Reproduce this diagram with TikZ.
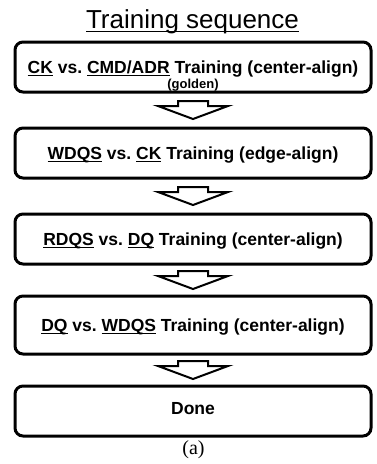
\documentclass[tikz,border=0pt]{standalone}
\usepackage{fontspec}
\setmainfont{Liberation Sans}
\newfontfamily\capfont{Liberation Serif}
\usepackage{tikz}
\usetikzlibrary{positioning,calc}
\frenchspacing

\newsavebox\ulbox
\newcommand\ulword[2][-2.6pt]{\sbox\ulbox{#2}\rlap{\rule[#1]{\wd\ulbox}{1.3pt}}\usebox\ulbox}

\begin{document}
\begin{tikzpicture}[%
box/.style={draw, line width=3pt, rounded corners=8pt, minimum width=356pt, minimum height=50pt, font=\bfseries\fontsize{17.5}{21}\selectfont, text height=12.5pt, text depth=-7.5pt},%
flow/.style={draw, line width=2pt, fill=white},%
node distance=86pt,%
  ]
    \useasboundingbox (0pt,0pt) rectangle (377pt,-464pt);

    \node[font=\fontsize{26}{30}\selectfont, anchor=base] (title) at (192.5pt,-28pt) {\ulword[-4pt]{Training sequence}};

    \node[box, align=center, inner ysep=0pt, text height=43pt, text depth=-12pt] (ck) at (193pt,-67pt) {\ulword{CK} vs. \ulword{CMD/ADR} Training (center-align)\\[-6pt]{\fontsize{13}{15}\selectfont (golden)}};

    \node[box] (wdqs) [below of=ck] {\ulword{WDQS} vs. \ulword{CK} Training (edge-align)};

    \node[box] (rdqs) [below of=wdqs] {\ulword{RDQS} vs. \ulword{DQ} Training (center-align)};

    \node[box, minimum height=58pt] (dq) [below of=rdqs] {\ulword{DQ} vs. \ulword{WDQS} Training (center-align)};

    \node[box, text depth=5.5pt] (done) [below of=dq] {Done};

        \foreach \a/\b in {ck/wdqs, wdqs/rdqs, rdqs/dq, dq/done}
        {
          \coordinate (m) at ($(\a.south)!0.5!(\b.north)$);
          \draw[flow] ($(m)+(-15pt,9pt)$) -- ($(m)+(15pt,9pt)$) -- ($(m)+(15pt,4pt)$) -- ($(m)+(35pt,4pt)$)
            -- ($(m)+(0pt,-9pt)$) -- ($(m)+(-35pt,4pt)$) -- ($(m)+(-15pt,4pt)$) -- cycle;
        }

    \node[font=\capfont\fontsize{20}{24}\selectfont, anchor=base] (cap) at (193.5pt,-454pt) {(a)};
  \end{tikzpicture}
\end{document}
